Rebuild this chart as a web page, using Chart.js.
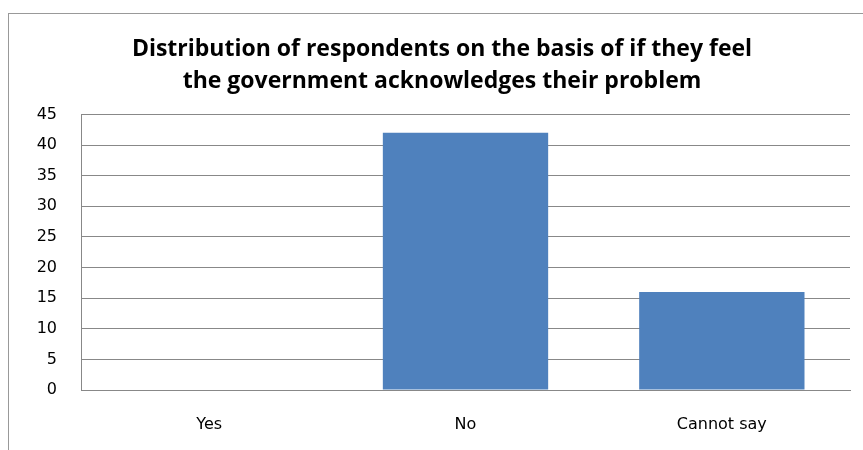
<!DOCTYPE html>
<html lang="en">
<head>
    <meta charset="UTF-8">
    <title>Government acknowledgement</title>
    <script src="https://cdn.jsdelivr.net/npm/chart.js"></script>
    <style>
        body { margin: 0; background: #fff; }
        #frame { position: absolute; left: 8px; top: 13px; width: 900px; height: 500px; border: 1px solid #999; }
        #wrap { position: absolute; left: 0; top: 0; width: 863px; height: 450px; }
    </style>
</head>
<body>
    <div id="frame"></div>
    <div id="wrap"><canvas id="chart"></canvas></div>

    <script>
        const titleLines = ["Distribution of respondents on the basis of if they feel", "the government acknowledges their problem"];
        const categories = ["Yes", "No", "Cannot say"];
        const respondents = [0, 42, 16];
        const yTicks = [0, 5, 10, 15, 20, 25, 30, 35, 40, 45];

        const tickFont = { family: "DejaVu Sans", size: 16 };

        new Chart(document.getElementById("chart").getContext("2d"), {
            type: "bar",
            data: {
                labels: categories,
                datasets: [{
                    data: respondents,
                    backgroundColor: "#4F81BD",
                    borderWidth: 0,
                    categoryPercentage: 1,
                    barPercentage: 0.645
                }]
            },
            options: {
                responsive: true,
                maintainAspectRatio: false,
                animation: false,
                layout: { padding: { left: 34, right: 13, top: 0, bottom: 0 } },
                plugins: {
                    legend: { display: false },
                    tooltip: { enabled: false },
                    title: {
                        display: true,
                        text: titleLines,
                        color: "#000",
                        font: { family: "Open Sans", size: 23, weight: "bold", lineHeight: 1.4 },
                        padding: { top: 33, bottom: 17 }
                    }
                },
                scales: {
                    x: {
                        grid: { display: false },
                        border: { color: "#888", width: 1 },
                        ticks: { color: "#000", font: tickFont, padding: 17 },
                        afterFit: s => { s.height = 60; }
                    },
                    y: {
                        min: 0,
                        max: 45,
                        afterBuildTicks: s => { s.ticks = yTicks.map(v => ({ value: v })); },
                        grid: { color: "#888", drawTicks: false },
                        border: { color: "#888", width: 1 },
                        ticks: { color: "#000", font: tickFont, padding: 24 },
                        afterFit: s => { s.width = 47; }
                    }
                }
            }
        });
    </script>
</body>
</html>
